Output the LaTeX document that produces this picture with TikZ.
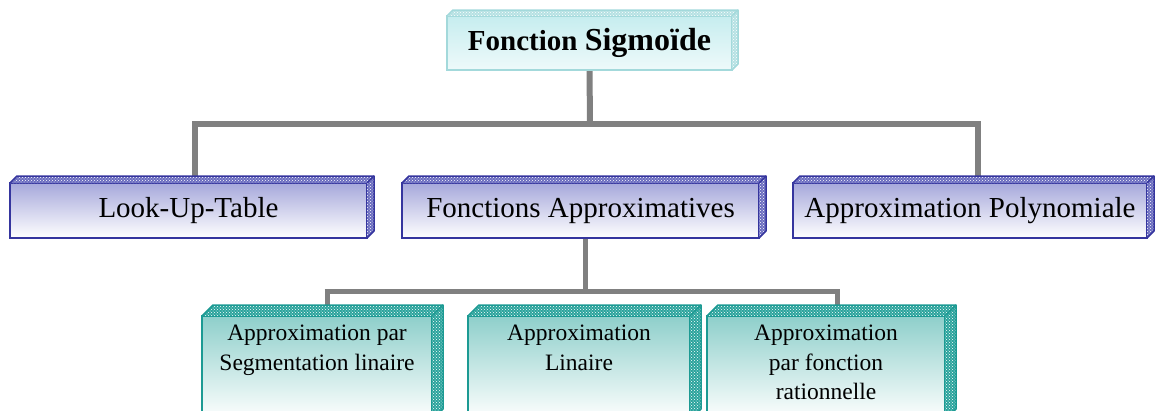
\documentclass[tikz,border=0pt]{standalone}
\usepackage{fontspec}
\setmainfont{Liberation Serif}
\usetikzlibrary{patterns}
\definecolor{lvA}{HTML}{A6A8DB}
\definecolor{lvAedge}{HTML}{35359E}
\definecolor{lvAface}{HTML}{6A6CBF}
\definecolor{lvB}{HTML}{8ECFCB}
\definecolor{lvBedge}{HTML}{1C9A93}
\definecolor{lvBface}{HTML}{2AA39C}
\definecolor{lvT}{HTML}{C6EDEF}
\definecolor{lvTedge}{HTML}{A3D9DB}
\definecolor{lvTface}{HTML}{B5E1E3}
\definecolor{conn}{HTML}{808080}
\pgfdeclarelayer{bg}
\pgfsetlayers{bg,main}
\newcommand\threedfaces[4]{%
  \fill[#3] (#1.north west) -- ++(#2,-#2) -- ([shift={(#2,-#2)}]#1.north east) -- (#1.north east) -- cycle;
  \fill[pattern=crosshatch dots,pattern color=white] (#1.north west) -- ++(#2,-#2) -- ([shift={(#2,-#2)}]#1.north east) -- (#1.north east) -- cycle;
  \fill[#3] (#1.north east) -- ++(#2,-#2) -- ([shift={(#2,-#2)}]#1.south east) -- (#1.south east) -- cycle;
  \fill[pattern=crosshatch dots,pattern color=white] (#1.north east) -- ++(#2,-#2) -- ([shift={(#2,-#2)}]#1.south east) -- (#1.south east) -- cycle;
  \draw[#4,line width=1.5pt,line join=round] (#1.north west) -- ++(#2,-#2) -- ([shift={(#2,-#2)}]#1.north east) -- ([shift={(#2,-#2)}]#1.south east) -- (#1.south east);
  \draw[#4,line width=1.5pt] (#1.north east) -- ++(#2,-#2);
}
\tikzset{
  x=1pt,y=-1pt,
  conline/.style={conn,line width=6pt},
  conlinesmall/.style={conn,line width=5pt},
  topbox/.style={draw=lvTedge,line width=1.5pt,top color=lvT,bottom color=lvT!30!white,outer sep=0pt,inner sep=0pt},
  midbox/.style={draw=lvAedge,line width=2pt,top color=lvA,bottom color=white,outer sep=0pt,inner sep=0pt},
  lowbox/.style={draw=lvBedge,line width=2pt,top color=lvB,bottom color=white,outer sep=0pt,inner sep=0pt},
  lowtext/.style={align=center,anchor=north,font=\fontsize{23.5}{29.5}\selectfont,inner sep=0pt},
  midtext/.style={inner sep=0pt,font=\fontsize{29}{34}\selectfont},
}
\begin{document}
\begin{tikzpicture}
\useasboundingbox (0,0) rectangle (1155,410);
\clip (0,0) rectangle (1155,410);
% boxes
\node[topbox,minimum width=285,minimum height=54] (top) at (589.5,43) {};
\node[midbox,minimum width=357,minimum height=55] (lut) at (188.5,210.5) {};
\node[midbox,minimum width=357,minimum height=55] (fa) at (580.5,210.5) {};
\node[midbox,minimum width=354,minimum height=55] (ap) at (970,210.5) {};
\node[lowbox,minimum width=230,minimum height=104] (sl) at (317,368) {};
\node[lowbox,minimum width=222,minimum height=104] (li) at (579,368) {};
\node[lowbox,minimum width=238,minimum height=104] (ra) at (826,368) {};
\threedfaces{top}{6}{lvTface}{lvTedge}
\threedfaces{lut}{7}{lvAface}{lvAedge}
\threedfaces{fa}{7}{lvAface}{lvAedge}
\threedfaces{ap}{7}{lvAface}{lvAedge}
\threedfaces{sl}{11}{lvBface}{lvBedge}
\threedfaces{li}{11}{lvBface}{lvBedge}
\threedfaces{ra}{11}{lvBface}{lvBedge}
% connectors
\begin{pgfonlayer}{bg}
\coordinate (bus) at (590,124);
\coordinate (busb) at (585,291);
\draw[conline] (top.south) -- (bus);
\draw[conline] ([xshift=-398]bus) -- ([xshift=391]bus);
\draw[conline] ([xshift=-395]bus) -- ([xshift=6.5]lut.north);
\draw[conline] ([xshift=388]bus) -- ([xshift=8]ap.north);
\draw[conlinesmall] ([xshift=4.5]fa.south) -- (busb);
\draw[conlinesmall] ([xshift=-260.5]busb) -- ([xshift=254.5]busb);
\draw[conlinesmall] ([xshift=-258]busb) -- ([xshift=10]sl.north);
\draw[conlinesmall] ([xshift=252]busb) -- ([xshift=11]ra.north);
\end{pgfonlayer}
% texts
\node[inner sep=0pt] (toptxt) at (top) {\bfseries\fontsize{29}{32}\selectfont Fonction \fontsize{32}{32}\selectfont Sigmoïde};
\node[midtext] (luttxt) at (lut) {Look-Up-Table};
\node[midtext] (fatxt) at (fa) {Fonctions Approximatives};
\node[midtext] (aptxt) at (ap) {Approximation Polynomiale};
\node[lowtext] (sltxt) at ([yshift=-9]sl.north) {Approximation par\\Segmentation linaire};
\node[lowtext] (litxt) at ([yshift=-9]li.north) {Approximation\\Linaire};
\node[lowtext] (ratxt) at ([yshift=-9]ra.north) {Approximation\\par fonction\\rationnelle};
\end{tikzpicture}
\end{document}
